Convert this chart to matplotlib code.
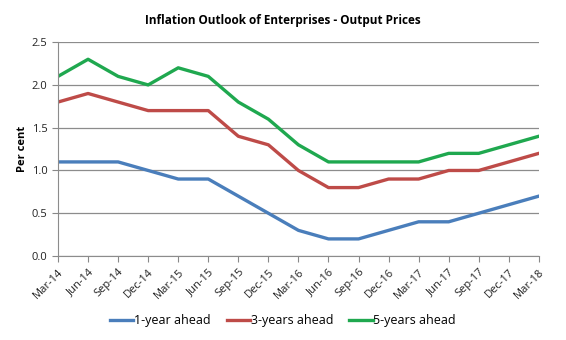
import matplotlib.pyplot as plt

quarters = ['Mar-14', 'Jun-14', 'Sep-14', 'Dec-14', 'Mar-15', 'Jun-15', 'Sep-15',
            'Dec-15', 'Mar-16', 'Jun-16', 'Sep-16', 'Dec-16', 'Mar-17', 'Jun-17',
            'Sep-17', 'Dec-17', 'Mar-18']
one_year = [1.1, 1.1, 1.1, 1.0, 0.9, 0.9, 0.7, 0.5, 0.3, 0.2, 0.2, 0.3, 0.4, 0.4,
            0.5, 0.6, 0.7]
three_years = [1.8, 1.9, 1.8, 1.7, 1.7, 1.7, 1.4, 1.3, 1.0, 0.8, 0.8, 0.9, 0.9, 1.0,
               1.0, 1.1, 1.2]
five_years = [2.1, 2.3, 2.1, 2.0, 2.2, 2.1, 1.8, 1.6, 1.3, 1.1, 1.1, 1.1, 1.1, 1.2,
              1.2, 1.3, 1.4]

plt.rcParams['font.family'] = ['Open Sans', 'DejaVu Sans']

fig = plt.figure(figsize=(5.66, 3.4), dpi=100)
ax = fig.add_axes([0.1025, 0.247, 0.8495, 0.629])

x = list(range(len(quarters)))
ax.plot(x, one_year, color='#4A7EBB', lw=2.4, label='1-year ahead')
ax.plot(x, three_years, color='#BE4B48', lw=2.4, label='3-years ahead')
ax.plot(x, five_years, color='#1FA84F', lw=2.4, label='5-years ahead')

ax.set_xlim(0, len(quarters) - 1)
ax.set_ylim(0, 2.5)
ax.set_yticks([0, 0.5, 1.0, 1.5, 2.0, 2.5])
ax.set_yticklabels(['0.0', '0.5', '1.0', '1.5', '2.0', '2.5'])
ax.set_xticks(x)
ax.set_xticklabels(quarters, rotation=45, ha='right', rotation_mode='anchor')
ax.tick_params(labelsize=8, length=4, width=0.8, colors='#888888',
               labelcolor='#222222')

ax.yaxis.grid(True, color='#8c8c8c', lw=0.9)
ax.set_axisbelow(True)
for side in ['top', 'right']:
    ax.spines[side].set_visible(False)
for side in ['left', 'bottom']:
    ax.spines[side].set_color('#8c8c8c')

ax.set_ylabel('Per cent', fontsize=8, fontweight='bold', labelpad=3)
fig.text(0.5, 0.94, 'Inflation Outlook of Enterprises - Output Prices',
         fontsize=8.5, fontweight='bold', ha='center', va='center')

fig.legend(loc='center', bbox_to_anchor=(0.5, 0.056), ncol=3, frameon=False,
           fontsize=9, handlelength=1.85, handletextpad=0.05, columnspacing=1.3)

fig.savefig('out.png', dpi=100)
